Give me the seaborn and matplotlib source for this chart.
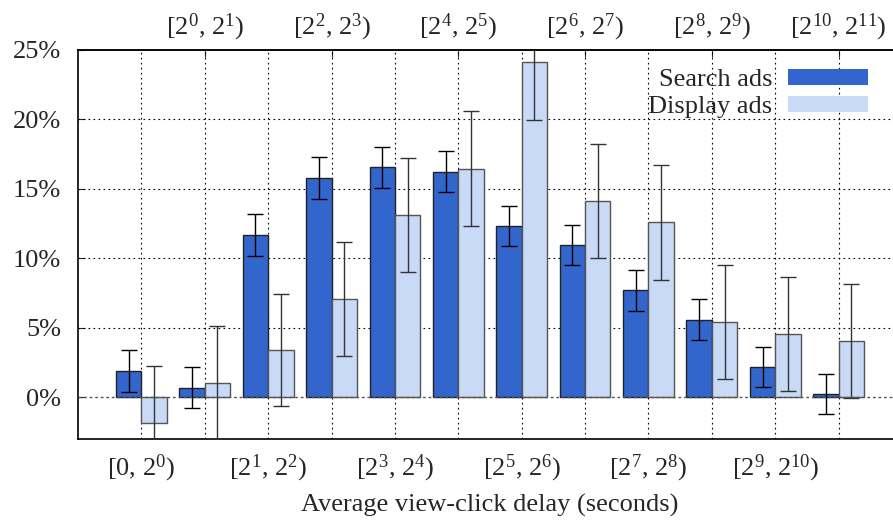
import numpy as np
import pandas as pd
import matplotlib
matplotlib.use("Agg")
import matplotlib.pyplot as plt
import seaborn as sns

# delay buckets (log2 seconds)
buckets = ["[0, 2$^{0}$)", "[2$^{0}$, 2$^{1}$)", "[2$^{1}$, 2$^{2}$)", "[2$^{2}$, 2$^{3}$)",
           "[2$^{3}$, 2$^{4}$)", "[2$^{4}$, 2$^{5}$)", "[2$^{5}$, 2$^{6}$)", "[2$^{6}$, 2$^{7}$)",
           "[2$^{7}$, 2$^{8}$)", "[2$^{8}$, 2$^{9}$)", "[2$^{9}$, 2$^{10}$)", "[2$^{10}$, 2$^{11}$)"]

search_vals = [1.9, 0.7, 11.7, 15.8, 16.55, 16.25, 12.35, 10.95, 7.7, 5.6, 2.2, 0.25]
search_err = [1.5, 1.45, 1.5, 1.5, 1.5, 1.5, 1.45, 1.45, 1.5, 1.5, 1.45, 1.45]
display_vals = [-1.85, 1.05, 3.4, 7.05, 13.1, 16.45, 24.15, 14.1, 12.6, 5.4, 4.55, 4.05]
display_err = [4.1, 4.05, 4.05, 4.1, 4.1, 4.15, 4.2, 4.1, 4.15, 4.1, 4.1, 4.1]

series = ["Search ads", "Display ads"]
colors = ["#3366cc", "#c8daf6"]

df = pd.DataFrame({
    "bucket": list(range(12)) * 2,
    "value": search_vals + display_vals,
    "err": search_err + display_err,
    "series": [series[0]] * 12 + [series[1]] * 12,
})

sns.set_style("white")
plt.rcParams["font.family"] = ["Liberation Serif", "DejaVu Serif"]
plt.rcParams["mathtext.default"] = "regular"
FS = 19

fig = plt.figure(figsize=(8.93, 5.23), dpi=100)
ax = fig.add_axes([78 / 893, (523 - 439) / 523, (902 - 78) / 893, (439 - 50) / 523])

sns.barplot(data=df, x="bucket", y="value", hue="series", palette=colors,
            saturation=1, errorbar=None, width=0.8, ax=ax, zorder=3)

# edges and error bars from the drawn bars
bars = ax.patches[:24]
for i, p in enumerate(bars):
    s = 0 if i < 12 else 1
    p.set_edgecolor("#222222" if s == 0 else "#555555")
    p.set_linewidth(1.0)
    xc = p.get_x() + p.get_width() / 2
    row = df.iloc[i]
    ax.errorbar(xc, row["value"], yerr=row["err"], fmt="none",
                ecolor="black" if s == 0 else "#333333", elinewidth=1.0,
                capsize=6, capthick=1.0, zorder=4)

ax.axhline(0, color="#555555", lw=1.0, ls=(0, (2, 2)), zorder=5)

ax.set_xlim(-1, 12)
ax.set_ylim(-3, 25)
ax.set_yticks([0, 5, 10, 15, 20, 25])
ax.set_yticklabels([f"{v}%" for v in [0, 5, 10, 15, 20, 25]], fontsize=FS)

# even buckets below, odd buckets above
ax.set_xticks(range(0, 12, 2))
ax.set_xticklabels(buckets[0::2], fontsize=FS)
top = ax.secondary_xaxis("top")
top.set_xticks(range(1, 12, 2))
top.set_xticklabels(buckets[1::2], fontsize=FS)
top.tick_params(direction="in", length=5, pad=5)
top.spines["top"].set_linewidth(1.2)
ax.tick_params(axis="x", direction="in", length=5, pad=10)
ax.tick_params(axis="y", direction="in", length=5, pad=12, left=True)

# grid at every bucket
for xv in range(12):
    ax.axvline(xv, color="black", lw=0.8, ls=(0, (1.5, 3)), zorder=1)
for yv in [5, 10, 15, 20]:
    ax.axhline(yv, color="black", lw=0.8, ls=(0, (1.5, 3)), zorder=1)

for side in ["left", "bottom", "top"]:
    ax.spines[side].set_linewidth(1.2)
    ax.spines[side].set_color("black")

ax.set_xlabel("Average view-click delay (seconds)", fontsize=FS, labelpad=7)
ax.set_ylabel("")

handles, labels = ax.get_legend_handles_labels()
for h in handles:
    h.set_edgecolor("none")
ax.legend(handles, labels, loc="upper right", bbox_to_anchor=(0.987, 1.012),
          frameon=False, markerfirst=False, fontsize=FS, handlelength=3.0,
          handleheight=0.53, labelspacing=0.18, handletextpad=0.6)

fig.savefig("out.png", dpi=100)
